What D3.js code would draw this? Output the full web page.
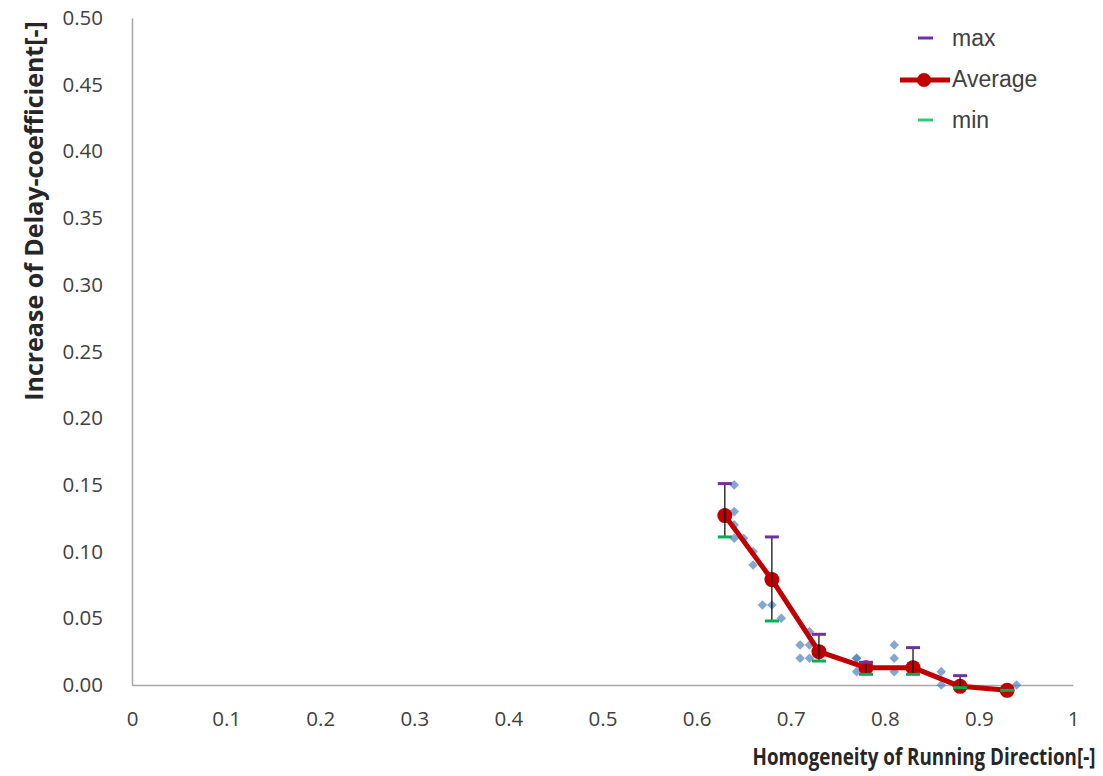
<!DOCTYPE html>
<html><head><meta charset="utf-8">
<script src="https://cdn.jsdelivr.net/npm/d3@7"></script>
<style>body{margin:0;background:#fff}svg{display:block}</style>
</head><body>
<svg id="c" width="1103" height="776"></svg>
<script>
const xTicks = [0,0.1,0.2,0.3,0.4,0.5,0.6,0.7,0.8,0.9,1];
const yTicks = [0,0.05,0.10,0.15,0.20,0.25,0.30,0.35,0.40,0.45,0.50];
const avgX = [0.63,0.68,0.73,0.78,0.83,0.88,0.93];
const avgY = [0.127,0.079,0.025,0.013,0.013,-0.001,-0.004];
const maxY = [0.151,0.111,0.038,0.017,0.028,0.007,null];
const minY = [0.111,0.048,0.018,0.008,0.008,-0.002,-0.004];
const scatX = [0.64,0.64,0.64,0.64,0.65,0.66,0.66,0.67,0.68,0.69,0.71,0.72,0.71,0.72,0.72,0.77,0.77,0.77,0.81,0.81,0.81,0.86,0.86,0.94];
const scatY = [0.15,0.13,0.12,0.11,0.11,0.10,0.09,0.06,0.06,0.05,0.03,0.03,0.02,0.02,0.04,0.02,0.01,0.02,0.03,0.02,0.01,0.01,0.00,0.00];

const svg = d3.select("#c");
const x = d3.scaleLinear().domain([0,1]).range([132,1073]);
const y = d3.scaleLinear().domain([0,0.5]).range([685,18]);

const tickFont = "'Open Sans', 'Liberation Sans', sans-serif";

// axes
const yAxis = svg.append("g").attr("transform","translate(132,0)")
  .call(d3.axisLeft(y).tickValues(yTicks).tickSize(0).tickPadding(29).tickFormat(d3.format(".2f")));
yAxis.select(".domain").attr("stroke","#a6a6a6").attr("stroke-width",1.5);
yAxis.selectAll("text").attr("font-family",tickFont).attr("font-size",20.5).attr("fill","#404040");

const xAxis = svg.append("g").attr("transform","translate(0,685)")
  .call(d3.axisBottom(x).tickValues(xTicks).tickSize(0).tickPadding(26).tickFormat(d => d===0?"0":d===1?"1":d3.format(".1f")(d)));
xAxis.select(".domain").attr("stroke","#a6a6a6").attr("stroke-width",1.5);
xAxis.selectAll("text").attr("font-family",tickFont).attr("font-size",20.5).attr("fill","#404040");

// scatter diamonds (squares rotated 45 degrees)
const sq = d3.symbol().type(d3.symbolSquare).size(46);
svg.append("g").selectAll("path").data(scatX.map((d,i)=>[d,scatY[i]])).join("path")
  .attr("d",sq)
  .attr("transform",d=>`translate(${x(d[0])},${y(d[1])}) rotate(45)`)
  .attr("fill","#4f81bd").attr("opacity",0.7);

const pts = avgX.map((d,i)=>({x:d,a:avgY[i],mx:maxY[i],mn:minY[i]}));

// average line
svg.append("path").datum(pts)
  .attr("d", d3.line().x(d=>x(d.x)).y(d=>y(d.a)))
  .attr("fill","none").attr("stroke","#c00000").attr("stroke-width",5).attr("stroke-linejoin","round");
svg.append("g").selectAll("circle").data(pts).join("circle")
  .attr("cx",d=>x(d.x)).attr("cy",d=>y(d.a)).attr("r",7.5).attr("fill","#c00000");

// error bars
const eb = svg.append("g");
eb.selectAll("line").data(pts.filter(d=>d.mx!==null)).join("line")
  .attr("x1",d=>x(d.x)).attr("x2",d=>x(d.x))
  .attr("y1",d=>y(d.mx)).attr("y2",d=>y(d.mn))
  .attr("stroke","#000").attr("stroke-width",1.2);
eb.selectAll(".mx").data(pts.filter(d=>d.mx!==null)).join("line").attr("class","mx")
  .attr("x1",d=>x(d.x)-7).attr("x2",d=>x(d.x)+7)
  .attr("y1",d=>y(d.mx)).attr("y2",d=>y(d.mx))
  .attr("stroke","#7030a0").attr("stroke-width",3);
eb.selectAll(".mn").data(pts).join("line").attr("class","mn")
  .attr("x1",d=>x(d.x)-7).attr("x2",d=>x(d.x)+7)
  .attr("y1",d=>y(d.mn)).attr("y2",d=>y(d.mn))
  .attr("stroke","#00b050").attr("stroke-width",3);

// legend
const lg = svg.append("g");
const legFont = "'Liberation Sans', Arial, sans-serif";
lg.append("line").attr("x1",918).attr("x2",933).attr("y1",38).attr("y2",38).attr("stroke","#7030a0").attr("stroke-width",3);
lg.append("text").attr("x",952).attr("y",46).text("max");
lg.append("line").attr("x1",900).attr("x2",950).attr("y1",80).attr("y2",80).attr("stroke","#c00000").attr("stroke-width",5);
lg.append("circle").attr("cx",924).attr("cy",80).attr("r",7).attr("fill","#c00000");
lg.append("text").attr("x",952).attr("y",87).text("Average");
lg.append("line").attr("x1",918).attr("x2",933).attr("y1",120).attr("y2",120).attr("stroke","#2ecc71").attr("stroke-width",3);
lg.append("text").attr("x",952).attr("y",128).text("min");
lg.selectAll("text").attr("font-family",legFont).attr("font-size",23).attr("fill","#404040");

// axis titles
svg.append("text").attr("transform","translate(43,211) rotate(-90)").attr("text-anchor","middle")
  .attr("font-family",tickFont).attr("font-weight","bold").attr("font-size",25).attr("fill","#262626")
  .text("Increase of Delay-coefficient[-]");
svg.append("text").attr("transform","translate(924,765) scale(1,1.2)").attr("text-anchor","middle")
  .attr("font-family",tickFont).attr("font-weight","bold").attr("font-size",18.8).attr("fill","#262626")
  .text("Homogeneity of Running Direction[-]");
</script>
</body></html>
